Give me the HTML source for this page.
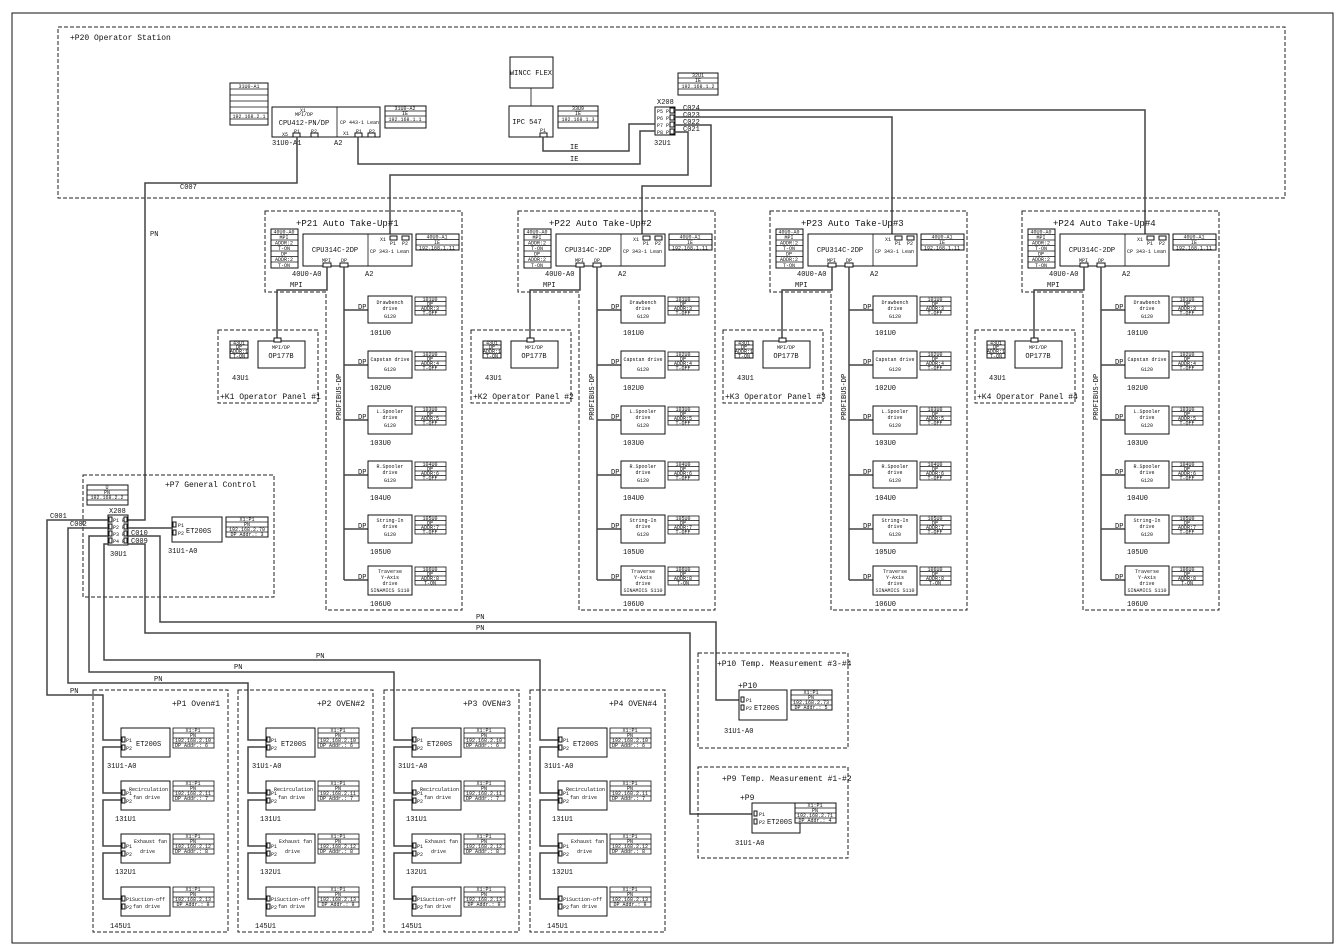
<!DOCTYPE html>
<html><head><meta charset="utf-8"><style>
body{margin:0;background:#fff}
svg{display:block}
text{font-family:"Liberation Mono",monospace;fill:#111}
.d{fill:none;stroke:#222;stroke-width:1;stroke-dasharray:4,2}
.b{fill:#fff;stroke:#111;stroke-width:1}
.l{fill:none;stroke:#444;stroke-width:1.5}
.t{fill:none;stroke:#111;stroke-width:0.8}
.s5{font-size:5px}.s6{font-size:6px}.s7{font-size:7px}.s8{font-size:8px}.s9{font-size:9px}
</style></head><body>
<svg id="sv" width="1344" height="950" viewBox="0 0 1344 950" xmlns="http://www.w3.org/2000/svg">
<rect x="12" y="13" width="1321" height="930" fill="none" stroke="#111" stroke-width="1"/>
<rect class="d" x="58" y="27" width="1227" height="171"/>
<text class="s8" x="70" y="40">+P20 Operator Station</text>

<!-- top CPU -->
<rect class="b" x="230" y="83" width="38" height="42"/>
<path class="t" d="M230 89H268M230 95H268M230 101H268M230 107H268M230 113H268M230 119H268"/>
<text class="s5" x="249" y="88" text-anchor="middle">31U0-A1</text><text class="s5" x="249" y="118" text-anchor="middle">192.168.2.1</text>
<rect class="b" x="272" y="107" width="108" height="30"/><path class="t" d="M337 107V137"/>
<text class="s7" x="304" y="125" text-anchor="middle">CPU412-PN/DP</text>
<text class="s5" x="304" y="116" text-anchor="middle">MPI/DP</text><text class="s5" x="300" y="112">X1</text>
<text class="s5" x="282" y="136">X5</text><text class="s5" x="294" y="133">P1</text><text class="s5" x="311" y="133">P2</text>
<rect class="b" x="293" y="133" width="7" height="4"/><rect class="b" x="311" y="133" width="7" height="4"/>
<text class="s5" x="340" y="124">CP 443-1 Lean</text>
<text class="s5" x="343" y="135">X1</text><text class="s5" x="356" y="133">P1</text><text class="s5" x="369" y="133">P2</text>
<rect class="b" x="355" y="133" width="7" height="4"/><rect class="b" x="368" y="133" width="7" height="4"/>
<text class="s7" x="272" y="145">31U0-A1</text><text class="s7" x="334" y="145">A2</text>
<rect class="b" x="385" y="106" width="41" height="22"/><path class="t" d="M385 111H426M385 116H426M385 122H426"/>
<text class="s5" x="405" y="110" text-anchor="middle">31U0-A2</text><text class="s5" x="405" y="115" text-anchor="middle">IE</text><text class="s5" x="405" y="121" text-anchor="middle">192.168.1.1</text>

<rect class="b" x="510" y="57" width="43" height="31"/><text class="s7" x="531" y="75" text-anchor="middle">WINCC FLEX</text>
<path class="t" d="M531 88V106"/>
<rect class="b" x="509" y="106" width="44" height="31"/><text class="s7" x="527" y="124" text-anchor="middle">IPC 547</text>
<text class="s5" x="540" y="132">P1</text><rect class="b" x="540" y="133" width="7" height="4"/>
<rect class="b" x="558" y="106" width="40" height="22"/><path class="t" d="M558 111H598M558 116H598M558 122H598"/>
<text class="s5" x="578" y="110" text-anchor="middle">33U9</text><text class="s5" x="578" y="115" text-anchor="middle">IE</text><text class="s5" x="578" y="121" text-anchor="middle">192.168.1.3</text>

<rect class="b" x="678" y="73" width="40" height="22"/><path class="t" d="M678 78H718M678 83H718M678 89H718"/>
<text class="s5" x="698" y="77" text-anchor="middle">32U1</text><text class="s5" x="698" y="82" text-anchor="middle">IE</text><text class="s5" x="698" y="88" text-anchor="middle">192.168.1.2</text>
<text class="s7" x="657" y="104">X208</text>
<rect class="b" x="655" y="107" width="20" height="28"/>
<text class="s5" x="657" y="113">P5 P4</text><text class="s5" x="657" y="120">P6 P3</text><text class="s5" x="657" y="127">P7 P2</text><text class="s5" x="657" y="134">P8 P1</text>
<rect class="b" x="670" y="108" width="4" height="5"/><rect class="b" x="670" y="115" width="4" height="5"/><rect class="b" x="670" y="122" width="4" height="5"/><rect class="b" x="670" y="129" width="4" height="5"/>
<text class="s7" x="654" y="145">32U1</text>
<text class="s7" x="683" y="110">C024</text><text class="s7" x="683" y="117">C023</text><text class="s7" x="683" y="124">C022</text><text class="s7" x="683" y="131">C021</text>

<path class="l" d="M297 137V183H145V520H128"/>
<text class="s7" x="180" y="189">C007</text><text class="s7" x="150" y="236">PN</text>
<path class="l" d="M358 137V164H640V131H655"/>
<path class="l" d="M543 137V151H629V124H655"/>
<text class="s7" x="570" y="149">IE</text><text class="s7" x="570" y="161">IE</text>
<path class="l" d="M674 132H688V175H390V237"/>
<path class="l" d="M674 125H711V186H642V237"/>
<path class="l" d="M674 117H892V237"/>
<path class="l" d="M674 110H1145V237"/>

<!-- Take-up template -->
<g id="tu1">
<path class="d" d="M265 211H462V610H326V292H265Z"/>
<rect class="b" x="271" y="229" width="27" height="39"/>
<path class="t" d="M271 234.5H298M271 240H298M271 245.5H298M271 251H298M271 256.5H298M271 262H298"/>
<text class="s5" x="284" y="233.5" text-anchor="middle">40U0-A0</text><text class="s5" x="284" y="239" text-anchor="middle">MPI</text><text class="s5" x="284" y="244.5" text-anchor="middle">ADDR:2</text><text class="s5" x="284" y="250" text-anchor="middle">T-ON</text><text class="s5" x="284" y="255.5" text-anchor="middle">DP</text><text class="s5" x="284" y="261" text-anchor="middle">ADDR:2</text><text class="s5" x="284" y="267" text-anchor="middle">T-ON</text>
<rect class="b" x="303" y="234" width="109" height="32"/><path class="t" d="M368 234V266"/>
<text class="s7" x="335" y="252" text-anchor="middle">CPU314C-2DP</text>
<text class="s5" x="322" y="262">MPI</text><text class="s5" x="341" y="262">DP</text>
<rect class="b" x="323" y="263" width="8" height="4"/><rect class="b" x="340" y="263" width="8" height="4"/>
<text class="s5" x="370" y="253">CP 343-1 Lean</text>
<text class="s5" x="380" y="241">X1</text><text class="s5" x="390" y="245">P1</text><text class="s5" x="402" y="245">P2</text>
<rect class="b" x="390" y="236" width="7" height="4"/><rect class="b" x="402" y="236" width="7" height="4"/>
<rect class="b" x="416" y="234" width="43" height="16"/><path class="t" d="M416 239.5H459M416 245H459"/>
<text class="s5" x="437" y="238.5" text-anchor="middle">40U0-A1</text><text class="s5" x="437" y="244" text-anchor="middle">IE</text><text class="s5" x="437" y="249.5" text-anchor="middle">192.168.1.11</text>
<text class="s7" x="292" y="276">40U0-A0</text><text class="s7" x="365" y="276">A2</text>
<path class="l" d="M327 267V290H277V340"/><text class="s7" x="290" y="287">MPI</text>
<path class="l" d="M344 267V580M344 310H368M344 365H368M344 420H368M344 475H368M344 529H368M344 580H368"/>
<text class="s7" transform="translate(341,420) rotate(-90)">PROFIBUS-DP</text>
<text class="s7" x="358" y="309">DP</text><text class="s7" x="358" y="364">DP</text><text class="s7" x="358" y="419">DP</text><text class="s7" x="358" y="474">DP</text><text class="s7" x="358" y="528">DP</text><text class="s7" x="358" y="579">DP</text>
<rect class="b" x="368" y="296" width="44" height="27"/><text class="s5" x="390" y="304" text-anchor="middle">Drawbench</text><text class="s5" x="390" y="310" text-anchor="middle">drive</text><text class="s5" x="390" y="318" text-anchor="middle">G120</text>
<rect class="b" x="368" y="351" width="44" height="27"/><text class="s5" x="390" y="361" text-anchor="middle">Capstan drive</text><text class="s5" x="390" y="371" text-anchor="middle">G120</text>
<rect class="b" x="368" y="406" width="44" height="28"/><text class="s5" x="390" y="413" text-anchor="middle">L.Spooler</text><text class="s5" x="390" y="419" text-anchor="middle">drive</text><text class="s5" x="390" y="427" text-anchor="middle">G120</text>
<rect class="b" x="368" y="461" width="44" height="27"/><text class="s5" x="390" y="468" text-anchor="middle">R.Spooler</text><text class="s5" x="390" y="474" text-anchor="middle">drive</text><text class="s5" x="390" y="482" text-anchor="middle">G120</text>
<rect class="b" x="368" y="515" width="44" height="28"/><text class="s5" x="390" y="522" text-anchor="middle">String-In</text><text class="s5" x="390" y="528" text-anchor="middle">drive</text><text class="s5" x="390" y="536" text-anchor="middle">G120</text>
<rect class="b" x="368" y="566" width="44" height="29"/><text class="s5" x="390" y="573" text-anchor="middle">Traverse</text><text class="s5" x="390" y="579" text-anchor="middle">Y-Axis</text><text class="s5" x="390" y="585" text-anchor="middle">drive</text><text class="s5" x="390" y="592" text-anchor="middle">SINAMICS S110</text>
<g class="t">
<rect x="415" y="297" width="31" height="18"/><path d="M415 301.5H446M415 306H446M415 310.5H446"/>
<rect x="415" y="352" width="31" height="18"/><path d="M415 356.5H446M415 361H446M415 365.5H446"/>
<rect x="415" y="407" width="31" height="18"/><path d="M415 411.5H446M415 416H446M415 420.5H446"/>
<rect x="415" y="462" width="31" height="18"/><path d="M415 466.5H446M415 471H446M415 475.5H446"/>
<rect x="415" y="516" width="31" height="18"/><path d="M415 520.5H446M415 525H446M415 529.5H446"/>
<rect x="415" y="567" width="31" height="18"/><path d="M415 571.5H446M415 576H446M415 580.5H446"/>
</g>
<text class="s5" text-anchor="middle"><tspan x="430" y="301">101U0</tspan><tspan x="430" y="305.5">DP</tspan><tspan x="430" y="310">ADDR:3</tspan><tspan x="430" y="314.5">T-OFF</tspan></text>
<text class="s5" text-anchor="middle"><tspan x="430" y="356">102U0</tspan><tspan x="430" y="360.5">DP</tspan><tspan x="430" y="365">ADDR:4</tspan><tspan x="430" y="369.5">T-OFF</tspan></text>
<text class="s5" text-anchor="middle"><tspan x="430" y="411">103U0</tspan><tspan x="430" y="415.5">DP</tspan><tspan x="430" y="420">ADDR:5</tspan><tspan x="430" y="424.5">T-OFF</tspan></text>
<text class="s5" text-anchor="middle"><tspan x="430" y="466">104U0</tspan><tspan x="430" y="470.5">DP</tspan><tspan x="430" y="475">ADDR:6</tspan><tspan x="430" y="479.5">T-OFF</tspan></text>
<text class="s5" text-anchor="middle"><tspan x="430" y="520">105U0</tspan><tspan x="430" y="524.5">DP</tspan><tspan x="430" y="529">ADDR:7</tspan><tspan x="430" y="533.5">T-OFF</tspan></text>
<text class="s5" text-anchor="middle"><tspan x="430" y="571">106U0</tspan><tspan x="430" y="575.5">DP</tspan><tspan x="430" y="580">ADDR:8</tspan><tspan x="430" y="584.5">T-ON</tspan></text>
<text class="s7" x="370" y="335">101U0</text><text class="s7" x="370" y="390">102U0</text><text class="s7" x="370" y="445">103U0</text><text class="s7" x="370" y="500">104U0</text><text class="s7" x="370" y="554">105U0</text><text class="s7" x="370" y="606">106U0</text>
<rect class="d" x="218" y="330" width="100" height="73"/>
<rect class="b" x="258" y="341" width="47" height="27"/><rect class="b" x="274" y="338" width="7" height="4"/>
<text class="s5" x="281" y="349" text-anchor="middle">MPI/DP</text><text class="s7" x="281" y="358" text-anchor="middle">OP177B</text>
<rect class="b" x="230" y="341" width="18" height="17"/><path class="t" d="M230 345H248M230 349H248M230 353.5H248"/>
<text class="s5" text-anchor="middle"><tspan x="239" y="344.5">43U1</tspan><tspan x="239" y="348.5">DP</tspan><tspan x="239" y="353">ADDR:1</tspan><tspan x="239" y="357.5">T-ON</tspan></text>
<text class="s7" x="232" y="380">43U1</text>
</g>
<text class="s9" x="296" y="226">+P21 Auto Take-Up#1</text>
<text class="s9" x="549" y="226">+P22 Auto Take-Up#2</text>
<text class="s9" x="801" y="226">+P23 Auto Take-Up#3</text>
<text class="s9" x="1053" y="226">+P24 Auto Take-Up#4</text>
<text class="s8" x="220" y="399">+K1 Operator Panel #1</text>
<text class="s8" x="473" y="399">+K2 Operator Panel #2</text>
<text class="s8" x="725" y="399">+K3 Operator Panel #3</text>
<text class="s8" x="977" y="399">+K4 Operator Panel #4</text>

<!-- P7 -->
<rect class="d" x="83" y="475" width="191" height="122"/>
<text class="s8" x="165" y="487">+P7 General Control</text>
<rect class="b" x="87" y="485" width="41" height="20"/><path class="t" d="M87 490H128M87 495H128M87 500H128"/>
<text class="s5" text-anchor="middle"><tspan x="107" y="489">U</tspan><tspan x="107" y="494">PN</tspan><tspan x="107" y="499">192.168.2.2</tspan></text>
<text class="s7" x="109" y="513">X208</text>
<rect class="b" x="108" y="515" width="20" height="30"/>
<text class="s5"><tspan x="113" y="522">P1 P8</tspan><tspan x="113" y="529">P2 P7</tspan><tspan x="113" y="536">P3 P6</tspan><tspan x="113" y="543">P4 P5</tspan></text>
<g class="b"><rect x="109" y="517" width="3" height="5"/><rect x="109" y="524" width="3" height="5"/><rect x="109" y="531" width="3" height="5"/><rect x="109" y="538" width="3" height="5"/>
<rect x="124" y="517" width="3" height="5"/><rect x="124" y="524" width="3" height="5"/><rect x="124" y="531" width="3" height="5"/><rect x="124" y="538" width="3" height="5"/></g>
<text class="s7" x="110" y="556">30U1</text>
<rect class="b" x="172" y="517" width="50" height="25"/>
<rect class="b" x="173" y="522" width="3" height="5"/><rect class="b" x="173" y="530" width="3" height="5"/>
<text class="s5"><tspan x="178" y="527">P1</tspan><tspan x="178" y="535">P2</tspan></text><text class="s7" x="186" y="533">ET200S</text>
<rect class="b" x="226" y="517" width="42" height="20"/><path class="t" d="M226 522H268M226 527H268M226 532H268"/>
<text class="s5" text-anchor="middle"><tspan x="247" y="521">X1:P1</tspan><tspan x="247" y="526">PN</tspan><tspan x="247" y="531">192.168.2.70</tspan><tspan x="247" y="536">DP Addr.: 3</tspan></text>
<text class="s7" x="168" y="553">31U1-A0</text>
<text class="s7" x="50" y="518">C001</text><text class="s7" x="70" y="526">C002</text>
<text class="s7" x="131" y="535">C010</text><text class="s7" x="131" y="543">C009</text>
<path class="l" d="M108 520H47V695H103V740H121"/>
<path class="l" d="M108 528H68V683H248V740H266"/>
<path class="l" d="M108 536H89V672H394V740H412"/>
<path class="l" d="M108 544H104V660H540V740H558"/>
<path class="l" d="M128 528H173"/>
<path class="l" d="M128 536H160V622H716V700H740"/>
<path class="l" d="M128 544H145V633H690V814H753"/>
<text class="s7" x="476" y="619">PN</text><text class="s7" x="476" y="630">PN</text>
<text class="s7" x="316" y="658">PN</text><text class="s7" x="234" y="669">PN</text>
<text class="s7" x="154" y="681">PN</text><text class="s7" x="70" y="693">PN</text>

<!-- Oven template -->
<g id="ov1">
<rect class="d" x="93" y="690" width="135" height="242"/>
<path class="l" d="M121 747H103V793H121M121 800H103V846H121M121 853H103V899H121"/>
<g class="b">
<rect x="121" y="728" width="49" height="29"/><rect x="121" y="781" width="49" height="29"/><rect x="121" y="834" width="49" height="29"/><rect x="121" y="887" width="49" height="29"/>
<rect x="122" y="737" width="3" height="5"/><rect x="122" y="745" width="3" height="5"/>
<rect x="122" y="790" width="3" height="5"/><rect x="122" y="798" width="3" height="5"/>
<rect x="122" y="843" width="3" height="5"/><rect x="122" y="851" width="3" height="5"/>
<rect x="122" y="896" width="3" height="5"/><rect x="122" y="904" width="3" height="5"/>
</g>
<text class="s5"><tspan x="126" y="742">P1</tspan><tspan x="126" y="750">P2</tspan><tspan x="126" y="795">P1</tspan><tspan x="126" y="803">P2</tspan><tspan x="126" y="848">P1</tspan><tspan x="126" y="856">P2</tspan><tspan x="126" y="901">P1</tspan><tspan x="126" y="909">P2</tspan></text>
<text class="s7" x="136" y="746">ET200S</text>
<text class="s5"><tspan x="129" y="791">Recirculation</tspan><tspan x="133" y="799">fan drive</tspan><tspan x="134" y="843">Exhaust fan</tspan><tspan x="140" y="853">drive</tspan><tspan x="132" y="901">Suction-off</tspan><tspan x="133" y="908">fan drive</tspan></text>
<g class="t">
<rect x="173" y="728" width="41" height="20"/><path d="M173 733H214M173 738H214M173 743H214"/>
<rect x="173" y="781" width="41" height="20"/><path d="M173 786H214M173 791H214M173 796H214"/>
<rect x="173" y="834" width="41" height="20"/><path d="M173 839H214M173 844H214M173 849H214"/>
<rect x="173" y="887" width="41" height="20"/><path d="M173 892H214M173 897H214M173 902H214"/>
</g>
<text class="s5" text-anchor="middle"><tspan x="193" y="732">X1:P1</tspan><tspan x="193" y="737">PN</tspan><tspan x="193" y="742">192.168.2.10</tspan><tspan x="193" y="747">DP Addr.: 6</tspan>
<tspan x="193" y="785">X1:P1</tspan><tspan x="193" y="790">PN</tspan><tspan x="193" y="795">192.168.2.11</tspan><tspan x="193" y="800">DP Addr.: 7</tspan>
<tspan x="193" y="838">X1:P1</tspan><tspan x="193" y="843">PN</tspan><tspan x="193" y="848">192.168.2.12</tspan><tspan x="193" y="853">DP Addr.: 8</tspan>
<tspan x="193" y="891">X1:P1</tspan><tspan x="193" y="896">PN</tspan><tspan x="193" y="901">192.168.2.13</tspan><tspan x="193" y="906">DP Addr.: 9</tspan></text>
<text class="s7" x="107" y="768">31U1-A0</text><text class="s7" x="115" y="821">131U1</text><text class="s7" x="115" y="874">132U1</text><text class="s7" x="110" y="928">145U1</text>
</g>
<text class="s8" x="172" y="706">+P1 Oven#1</text>
<text class="s8" x="317" y="706">+P2 OVEN#2</text>
<text class="s8" x="463" y="706">+P3 OVEN#3</text>
<text class="s8" x="609" y="706">+P4 OVEN#4</text>

<!-- P10 / P9 -->
<rect class="d" x="698" y="653" width="150" height="95"/>
<text class="s8" x="717" y="666">+P10 Temp. Measurement #3-#4</text>
<text class="s8" x="738" y="688">+P10</text>
<rect class="b" x="739" y="690" width="48" height="30"/>
<rect class="b" x="741" y="697" width="3" height="5"/><rect class="b" x="741" y="705" width="3" height="5"/>
<text class="s5"><tspan x="746" y="702">P1</tspan><tspan x="746" y="710">P2</tspan></text><text class="s7" x="754" y="710">ET200S</text>
<rect class="b" x="791" y="690" width="41" height="20"/><path class="t" d="M791 695H832M791 700H832M791 705H832"/>
<text class="s5" text-anchor="middle"><tspan x="811" y="694">X1:P1</tspan><tspan x="811" y="699">PN</tspan><tspan x="811" y="704">192.168.2.73</tspan><tspan x="811" y="709">DP Addr.: 5</tspan></text>
<text class="s7" x="724" y="733">31U1-A0</text>

<rect class="d" x="698" y="767" width="150" height="91"/>
<text class="s8" x="722" y="781">+P9 Temp. Measurement #1-#2</text>
<text class="s8" x="740" y="800">+P9</text>
<rect class="b" x="752" y="803" width="48" height="30"/>
<rect class="b" x="754" y="811" width="3" height="5"/><rect class="b" x="754" y="819" width="3" height="5"/>
<text class="s5"><tspan x="759" y="816">P1</tspan><tspan x="759" y="824">P2</tspan></text><text class="s7" x="767" y="824">ET200S</text>
<rect class="b" x="795" y="803" width="41" height="20"/><path class="t" d="M795 808H836M795 813H836M795 818H836"/>
<text class="s5" text-anchor="middle"><tspan x="815" y="807">X1:P1</tspan><tspan x="815" y="812">PN</tspan><tspan x="815" y="817">192.168.2.71</tspan><tspan x="815" y="822">DP Addr.: 4</tspan></text>
<text class="s7" x="735" y="845">31U1-A0</text>
</svg>
<script>
(function(){
var sv=document.getElementById('sv');
function cl(id,dxs){var g=document.getElementById(id);dxs.forEach(function(dx){var c=g.cloneNode(true);c.removeAttribute('id');c.setAttribute('transform','translate('+dx+',0)');sv.insertBefore(c,g.nextSibling);});}
cl('tu1',[253,505,757]);
cl('ov1',[145,291,437]);
})();
</script>
</body></html>
